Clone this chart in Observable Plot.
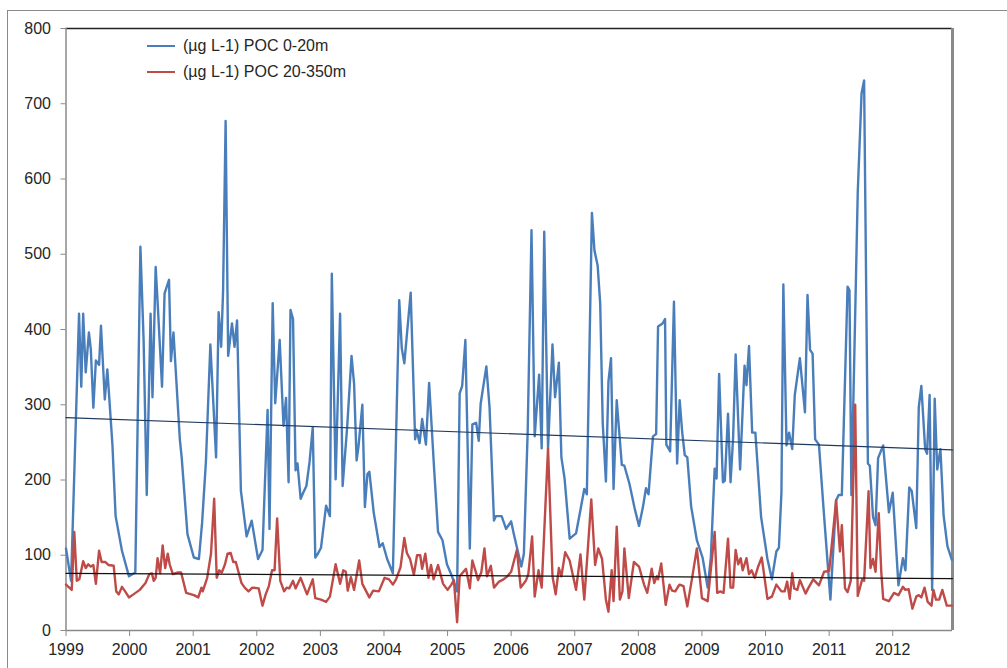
<!DOCTYPE html>
<html>
<head>
<meta charset="utf-8">
<script src="https://cdn.jsdelivr.net/npm/d3@7"></script>
<script src="https://cdn.jsdelivr.net/npm/@observablehq/plot@0.6"></script>
<style>
  html, body { margin: 0; padding: 0; background: #fff; }
  #wrap { position: relative; width: 1007px; height: 668px; overflow: hidden; font-family: "Liberation Sans", Arial, sans-serif; }
  #border { position: absolute; left: 7px; top: 10px; width: 1100px; height: 700px; border-left: 1.5px solid #8a8a8a; border-top: 1.5px solid #8a8a8a; pointer-events: none; }
  .leg { position: absolute; left: 147px; height: 18px; display: flex; align-items: center; font-size: 16px; color: #262626; white-space: nowrap; }
  .leg .sw { width: 28px; height: 0; border-top: 2.5px solid; margin-right: 8px; }
</style>
</head>
<body>
<div id="wrap">
  <div id="chart"></div>
  <div id="border"></div>
  <div id="legend"></div>
</div>
<script>
// ---- Data ----
const years = [1999, 2000, 2001, 2002, 2003, 2004, 2005, 2006, 2007, 2008, 2009, 2010, 2011, 2012];
const yTicks = [0, 100, 200, 300, 400, 500, 600, 700, 800];
const xEnd = 2012.94;

const seriesNames = ["(µg L-1) POC 0-20m", "(µg L-1) POC 20-350m"];
const seriesColors = ["#4a7ebb", "#be4b48"];

// [decimal year, µg L-1]
const poc0_20 = [
[1999.0,109],[1999.08,66],[1999.205,421],[1999.24,324],[1999.27,421],[1999.31,343],[1999.36,396],[1999.39,374],[1999.43,296],[1999.47,359],[1999.52,353],[1999.55,405],[1999.61,307],[1999.65,347],[1999.73,247],[1999.78,152],[1999.88,106],[1999.99,72],
[2000.09,77],[2000.17,510],[2000.22,387],[2000.27,180],[2000.33,421],[2000.36,310],[2000.41,483],[2000.44,437],[2000.51,324],[2000.55,448],[2000.62,466],[2000.65,358],[2000.69,396],[2000.79,254],[2000.82,229],[2000.91,128],
[2001.01,97],[2001.09,95],[2001.14,143],[2001.2,224],[2001.27,380],[2001.36,230],[2001.40,423],[2001.44,377],[2001.47,451],[2001.51,677],[2001.55,365],[2001.61,408],[2001.65,377],[2001.69,412],[2001.75,186],[2001.84,125],[2001.92,146],
[2002.02,95],[2002.09,107],[2002.17,293],[2002.20,135],[2002.25,435],[2002.29,302],[2002.36,386],[2002.42,272],[2002.46,309],[2002.50,197],[2002.53,426],[2002.57,414],[2002.61,213],[2002.64,222],[2002.69,175],[2002.73,183],[2002.78,192],[2002.83,224],[2002.88,270],[2002.92,97],[2002.96,102],
[2003.01,110],[2003.05,138],[2003.09,166],[2003.15,152],[2003.18,474],[2003.24,201],[2003.31,421],[2003.35,192],[2003.42,269],[2003.49,365],[2003.53,328],[2003.57,226],[2003.60,245],[2003.66,300],[2003.70,164],[2003.74,208],[2003.77,211],[2003.84,156],[2003.93,111],[2003.98,116],
[2004.05,95],[2004.14,76],[2004.24,439],[2004.28,375],[2004.32,355],[2004.42,449],[2004.49,254],[2004.51,267],[2004.56,249],[2004.60,281],[2004.66,247],[2004.71,329],[2004.79,213],[2004.85,131],[2004.92,120],[2004.99,88],
[2005.07,72],[2005.15,52],[2005.19,315],[2005.23,325],[2005.28,386],[2005.35,109],[2005.39,274],[2005.45,276],[2005.49,252],[2005.52,301],[2005.61,351],[2005.66,297],[2005.73,146],[2005.76,152],[2005.85,152],[2005.92,135],
[2006.0,145],[2006.04,129],[2006.10,107],[2006.16,85],[2006.20,102],[2006.26,265],[2006.32,532],[2006.37,258],[2006.44,340],[2006.48,242],[2006.52,530],[2006.58,242],[2006.65,380],[2006.69,310],[2006.75,356],[2006.79,230],[2006.84,202],[2006.92,122],
[2007.02,129],[2007.10,165],[2007.15,188],[2007.19,181],[2007.27,555],[2007.31,505],[2007.36,485],[2007.40,435],[2007.44,276],[2007.49,198],[2007.53,331],[2007.57,362],[2007.61,188],[2007.66,306],[2007.74,220],[2007.78,219],[2007.86,195],[2007.94,163],
[2008.01,139],[2008.07,163],[2008.12,189],[2008.16,181],[2008.23,258],[2008.28,261],[2008.31,404],[2008.38,408],[2008.42,414],[2008.44,247],[2008.50,238],[2008.56,437],[2008.61,222],[2008.65,306],[2008.69,263],[2008.73,233],[2008.77,230],[2008.83,165],[2008.92,120],
[2009.01,97],[2009.09,57],[2009.14,97],[2009.20,215],[2009.23,202],[2009.27,341],[2009.33,197],[2009.36,199],[2009.41,288],[2009.45,197],[2009.49,256],[2009.53,367],[2009.60,214],[2009.67,352],[2009.70,326],[2009.74,378],[2009.79,263],[2009.84,263],[2009.93,151],
[2010.03,95],[2010.10,68],[2010.17,105],[2010.21,110],[2010.25,183],[2010.28,460],[2010.33,246],[2010.37,263],[2010.42,241],[2010.46,313],[2010.54,362],[2010.62,290],[2010.66,446],[2010.70,373],[2010.74,368],[2010.78,254],[2010.84,247],[2010.92,153],
[2011.02,41],[2011.11,173],[2011.15,180],[2011.20,180],[2011.29,457],[2011.32,452],[2011.35,180],[2011.45,582],[2011.51,714],[2011.55,731],[2011.61,222],[2011.64,219],[2011.69,151],[2011.73,140],[2011.77,229],[2011.85,246],[2011.94,157],
[2012.0,183],[2012.09,60],[2012.16,96],[2012.20,80],[2012.26,190],[2012.30,185],[2012.37,136],[2012.41,297],[2012.45,325],[2012.51,241],[2012.54,235],[2012.58,313],[2012.62,54],[2012.66,308],[2012.70,214],[2012.75,241],[2012.80,153],[2012.86,112],[2012.93,94]
];

const poc20_350 = [
[1999.0,61],[1999.09,54],[1999.13,131],[1999.17,66],[1999.21,68],[1999.27,92],[1999.31,83],[1999.35,88],[1999.39,85],[1999.43,87],[1999.47,62],[1999.52,106],[1999.56,91],[1999.62,91],[1999.67,87],[1999.75,86],[1999.79,52],[1999.83,48],[1999.88,58],[1999.93,52],[1999.99,44],
[2000.06,48],[2000.16,54],[2000.25,63],[2000.31,75],[2000.35,76],[2000.38,66],[2000.41,70],[2000.44,96],[2000.48,76],[2000.52,113],[2000.56,83],[2000.60,102],[2000.63,88],[2000.68,75],[2000.75,77],[2000.81,77],[2000.89,50],
[2001.01,47],[2001.08,44],[2001.13,57],[2001.15,52],[2001.22,70],[2001.28,102],[2001.33,175],[2001.37,70],[2001.41,80],[2001.45,77],[2001.50,88],[2001.54,102],[2001.59,103],[2001.63,91],[2001.67,91],[2001.76,63],[2001.81,57],[2001.87,52],[2001.93,57],
[2002.03,56],[2002.09,33],[2002.14,48],[2002.19,59],[2002.24,80],[2002.28,80],[2002.32,149],[2002.37,66],[2002.43,52],[2002.47,57],[2002.51,56],[2002.57,66],[2002.61,56],[2002.69,70],[2002.74,59],[2002.79,48],[2002.88,68],[2002.92,43],
[2003.01,41],[2003.09,38],[2003.15,45],[2003.24,88],[2003.31,62],[2003.36,80],[2003.40,78],[2003.43,53],[2003.48,71],[2003.53,54],[2003.61,93],[2003.66,62],[2003.77,44],[2003.83,53],[2003.92,52],
[2004.01,70],[2004.08,68],[2004.14,61],[2004.19,68],[2004.26,84],[2004.32,123],[2004.36,103],[2004.41,95],[2004.47,74],[2004.52,100],[2004.57,100],[2004.60,82],[2004.65,102],[2004.70,70],[2004.74,87],[2004.78,68],[2004.85,87],[2004.93,62],
[2005.0,54],[2005.06,61],[2005.10,67],[2005.15,11],[2005.19,72],[2005.29,82],[2005.35,56],[2005.39,93],[2005.44,79],[2005.48,67],[2005.53,77],[2005.58,109],[2005.62,72],[2005.68,86],[2005.73,57],[2005.81,65],[2005.88,68],[2005.94,72],
[2006.0,78],[2006.09,107],[2006.15,57],[2006.23,66],[2006.27,75],[2006.33,125],[2006.37,45],[2006.43,80],[2006.48,57],[2006.58,242],[2006.65,72],[2006.70,48],[2006.75,83],[2006.79,72],[2006.85,104],[2006.92,93],
[2007.02,54],[2007.09,101],[2007.15,41],[2007.26,174],[2007.32,87],[2007.37,109],[2007.43,95],[2007.49,41],[2007.53,25],[2007.58,80],[2007.61,39],[2007.66,138],[2007.71,41],[2007.75,52],[2007.78,109],[2007.85,43],[2007.93,91],
[2008.01,85],[2008.09,61],[2008.14,50],[2008.21,82],[2008.25,63],[2008.29,72],[2008.31,68],[2008.36,89],[2008.43,34],[2008.49,61],[2008.53,53],[2008.58,52],[2008.63,59],[2008.65,61],[2008.71,59],[2008.77,32],[2008.84,67],[2008.92,109],
[2009.0,43],[2009.09,39],[2009.20,131],[2009.24,50],[2009.29,52],[2009.34,50],[2009.41,122],[2009.45,57],[2009.49,57],[2009.53,107],[2009.57,88],[2009.61,96],[2009.64,80],[2009.70,96],[2009.74,75],[2009.78,80],[2009.83,70],[2009.88,84],[2009.94,97],
[2010.03,42],[2010.10,45],[2010.17,61],[2010.25,52],[2010.30,52],[2010.34,65],[2010.38,42],[2010.42,76],[2010.45,56],[2010.50,54],[2010.54,67],[2010.63,49],[2010.67,56],[2010.75,68],[2010.84,60],[2010.92,78],
[2011.0,79],[2011.06,129],[2011.11,173],[2011.17,105],[2011.20,140],[2011.25,56],[2011.29,51],[2011.34,66],[2011.41,300],[2011.45,46],[2011.52,68],[2011.55,66],[2011.62,185],[2011.65,83],[2011.69,95],[2011.73,78],[2011.78,156],[2011.82,78],[2011.85,42],[2011.94,39],
[2012.02,50],[2012.09,47],[2012.16,58],[2012.20,54],[2012.25,55],[2012.31,29],[2012.37,45],[2012.41,47],[2012.45,44],[2012.50,57],[2012.55,38],[2012.61,33],[2012.64,54],[2012.68,41],[2012.73,41],[2012.78,54],[2012.85,33],[2012.93,33]
];

// Linear trend lines as drawn in the reference (start and end values)
const trend0_20 = [[1999, 283], [xEnd, 240]];
const trend20_350 = [[1999, 76], [xEnd, 69]];

// ---- Chart ----
const X = d => d[0], Y = d => d[1];
const chart = Plot.plot({
  width: 1007,
  height: 668,
  marginLeft: 65.5,
  marginRight: 55,
  marginTop: 28,
  marginBottom: 38,
  style: { fontFamily: "'Liberation Sans', Arial, sans-serif", fontSize: "16px", background: "transparent", overflow: "visible" },
  x: { domain: [1999, xEnd], label: null },
  y: { domain: [0, 800], label: null },
  marks: [
    Plot.axisX({ ticks: years, tickFormat: d => String(d), tickSize: 6, tickPadding: 7, stroke: "#8a8a8a", fill: "#262626", label: null }),
    Plot.axisY({ ticks: yTicks, tickFormat: d => String(d), tickSize: 5, tickPadding: 10, stroke: "#8a8a8a", fill: "#262626", label: null }),
    Plot.ruleY([800], { stroke: "#222", strokeWidth: 1.5 }),
    Plot.ruleX([xEnd], { stroke: "#8a8a8a", strokeWidth: 3 }),
    Plot.ruleX([1999], { stroke: "#8a8a8a", strokeWidth: 1.5 }),
    Plot.ruleY([0], { stroke: "#8a8a8a", strokeWidth: 1.5 }),
    Plot.line(poc0_20, { x: X, y: Y, stroke: seriesColors[0], strokeWidth: 2.4, strokeLinejoin: "round" }),
    Plot.line(poc20_350, { x: X, y: Y, stroke: seriesColors[1], strokeWidth: 2.4, strokeLinejoin: "round" }),
    Plot.line(trend0_20, { x: X, y: Y, stroke: "#1f3a5f", strokeWidth: 1.2 }),
    Plot.line(trend20_350, { x: X, y: Y, stroke: "#111", strokeWidth: 1.2 })
  ]
});
document.getElementById("chart").appendChild(chart);

// ---- Legend ----
const legend = document.getElementById("legend");
seriesNames.forEach((name, i) => {
  const row = document.createElement("div");
  row.className = "leg";
  row.style.top = (37 + i * 26) + "px";
  const sw = document.createElement("span");
  sw.className = "sw";
  sw.style.borderTopColor = seriesColors[i];
  const tx = document.createElement("span");
  tx.textContent = name;
  row.appendChild(sw);
  row.appendChild(tx);
  legend.appendChild(row);
});
</script>
</body>
</html>
